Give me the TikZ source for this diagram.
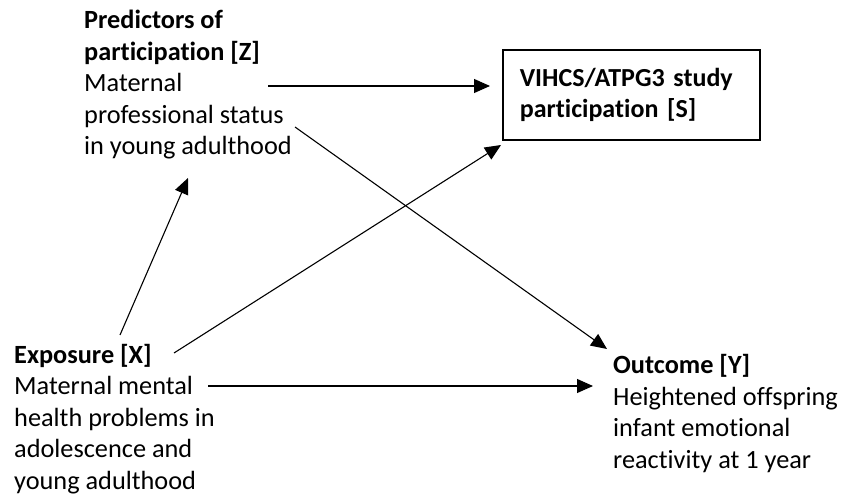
\documentclass[tikz,border=0pt]{standalone}
\usepackage{fontspec}
\setmainfont[Ligatures=NoCommon]{Carlito}
\usepackage{tikz}
\usetikzlibrary{arrows.meta}
\tikzset{var label/.style={align=left,inner sep=0pt,anchor=base west,font=\fontsize{26.3}{31.5}\selectfont},
	sel box/.style={draw,line width=1.6pt,anchor=north west,inner xsep=17pt,text width=223pt,align=left,minimum height=90pt,font=\fontsize{26}{31}\selectfont\bfseries},
	path arrow/.style={-{Triangle[length=16pt,width=14pt]},line width=1.1pt}}

\begin{document}
\begin{tikzpicture}[x=1pt,y=-1pt]
			\useasboundingbox (0,0) rectangle (845,502);
			% base = last line
			\node[var label] (Z) at (84,155) {\textbf{Predictors of}\\\textbf{participation [Z]}\\Maternal\\professional status\\in young adulthood};
			\node[sel box] (S) at (502,49) {VIHCS/ATPG3 study\\participation [S]};
			\node[var label] (X) at (14,489) {\textbf{Exposure [X]}\\Maternal mental\\health problems in\\adolescence and\\young adulthood};
			\node[var label] (Y) at (613,468) {\textbf{Outcome [Y]}\\Heightened offspring\\infant emotional\\reactivity at 1 year};
			% Arrow ends
			\coordinate (Z-S) at (268,86);
			\coordinate (S-Z) at (490,86);
			\coordinate (Z-Y) at (295,127);
			\coordinate (Y-Z) at (607,349);
			\coordinate (X-Z) at (120,335);
			\coordinate (Z-X) at (188,178);
			\coordinate (X-S) at (174,353);
			\coordinate (S-X) at (501,145);
			\coordinate (X-Y) at (208,386);
			\coordinate (Y-X) at (593,386);
			\draw[path arrow] (Z-S) -- (S-Z);
			\draw[path arrow] (Z-Y) -- (Y-Z);
			\draw[path arrow] (X-Z) -- (Z-X);
			\draw[path arrow] (X-S) -- (S-X);
			\draw[path arrow] (X-Y) -- (Y-X);
		\end{tikzpicture}
\end{document}
